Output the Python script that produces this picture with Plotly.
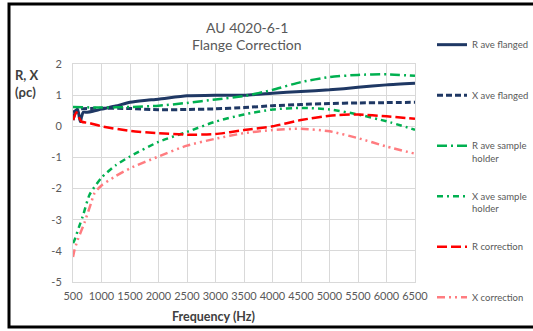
import plotly.graph_objects as go

# ---- data ----
f_rflg = [500, 540, 580, 610, 630, 650, 680, 750, 850, 1000, 1250, 1500, 1750, 2000, 2500, 3000, 3500, 4000, 4500, 5000, 5500, 6000, 6500]
r_flg = [0.2, 0.45, 0.55, 0.3, 0.15, 0.3, 0.45, 0.45, 0.48, 0.55, 0.65, 0.77, 0.83, 0.87, 0.98, 1.0, 1.0, 1.06, 1.12, 1.17, 1.25, 1.33, 1.38]

f_xflg = [500, 600, 1000, 1500, 2000, 2500, 3000, 3500, 4000, 4500, 5000, 5500, 6000, 6500]
x_flg = [0.45, 0.55, 0.58, 0.57, 0.53, 0.54, 0.56, 0.6, 0.66, 0.7, 0.73, 0.75, 0.76, 0.77]

f_rsh = [500, 1000, 1500, 2000, 2500, 3000, 3500, 4000, 4500, 5000, 5500, 6000, 6500]
r_sh = [0.62, 0.6, 0.62, 0.66, 0.75, 0.86, 0.97, 1.17, 1.42, 1.58, 1.65, 1.67, 1.62]

f_xsh = [500, 525, 612, 670, 790, 1000, 1250, 1500, 2000, 2500, 3000, 3500, 4000, 4500, 5000, 5500, 6000, 6500]
x_sh = [-3.75, -3.66, -3.2, -2.9, -2.2, -1.65, -1.25, -0.97, -0.5, -0.18, 0.15, 0.38, 0.54, 0.59, 0.54, 0.38, 0.16, -0.11]

f_rc = [500, 560, 600, 650, 800, 1000, 1500, 2000, 2500, 3000, 3500, 4000, 4500, 5000, 5500, 6000, 6500]
r_corr = [0.2, 0.45, 0.3, 0.15, 0.1, 0.0, -0.15, -0.22, -0.27, -0.25, -0.12, 0.0, 0.2, 0.34, 0.38, 0.32, 0.24]

f_xc = [500, 525, 580, 700, 816, 876, 1000, 1250, 1500, 2000, 2500, 3000, 3500, 4000, 4500, 5000, 5500, 6000, 6500]
x_corr = [-4.2, -3.98, -3.66, -3.1, -2.47, -2.15, -1.9, -1.6, -1.35, -0.97, -0.62, -0.4, -0.22, -0.12, -0.08, -0.16, -0.38, -0.65, -0.88]

x_ticks = list(range(500, 7000, 500))
y_ticks = [-5, -4, -3, -2, -1, 0, 1, 2]

series = [
    ("R ave flanged", f_rflg, r_flg, "#1F3864", "solid", 3),
    ("X ave flanged", f_xflg, x_flg, "#1F3864", "6px,3px", 3),
    ("R ave sample<br>holder", f_rsh, r_sh, "#00B050", "10px,4px,2px,4px", 2.5),
    ("X ave sample<br>holder", f_xsh, x_sh, "#00B050", "6px,4px,2px,4px", 2.5),
    ("R correction", f_rc, r_corr, "#FF0000", "10px,4px", 2.5),
    ("X correction", f_xc, x_corr, "#FF7C80", "8px,4px,2px,4px,2px,4px", 2.5),
]

fig = go.Figure()
for i, (name, xs, ys, col, dash, w) in enumerate(series):
    label = name if "<br>" in name else name + "<br> "
    fig.add_trace(go.Scatter(
        x=xs, y=ys, mode="lines", name=label, legendgroup=str(i),
        line=dict(color=col, dash=dash, width=w, shape="spline", smoothing=0.6),
    ))

L, R, T, B = 73, 118, 64, 49
W, H = 533, 331
pw, ph = W - L - R, H - T - B

def px(xp):
    return (xp - L) / pw

def py(yp):
    return (H - B - yp) / ph

grid = "#D9D9D9"
tick_font = dict(family="Lato, sans-serif", size=11, color="#595959")

fig.update_layout(
    width=W, height=H,
    margin=dict(l=L, r=R, t=T, b=B, autoexpand=False),
    paper_bgcolor="white", plot_bgcolor="white",
    font=dict(family="Lato, sans-serif", color="#595959"),
    xaxis=dict(range=[500, 6500], tickvals=x_ticks, ticktext=[str(v) for v in x_ticks],
               showgrid=True, gridcolor=grid, gridwidth=1, zeroline=False, tickangle=0,
               showline=True, linecolor=grid, mirror=True, ticks="", tickfont=tick_font,
               ticklabelstandoff=4),
    yaxis=dict(range=[-5, 2], tickvals=y_ticks, ticktext=[str(v) for v in y_ticks],
               showgrid=True, gridcolor=grid, gridwidth=1, zeroline=False,
               showline=True, linecolor=grid, mirror=True, ticks="", tickfont=tick_font,
               ticklabelstandoff=8),
    showlegend=True,
    legend=dict(x=px(432), y=py(32), xanchor="left", yanchor="top",
                font=dict(family="Lato, sans-serif", size=9.5, color="#595959"),
                tracegroupgap=22.8, valign="top", bgcolor="rgba(0,0,0,0)",
                maxheight=320, itemwidth=30),
)

annots = [
    dict(text="AU 4020-6-1", x=px(247), y=py(27)),
    dict(text="Flange Correction", x=px(247), y=py(45)),
]
for a in annots:
    fig.add_annotation(text=a["text"], x=a["x"], y=a["y"], xref="paper", yref="paper",
                       showarrow=False, xanchor="center", yanchor="middle",
                       font=dict(family="Lato, sans-serif", size=14, color="#595959"))

fig.add_annotation(text="<b>R, X</b>", x=px(13), y=py(75), xref="paper", yref="paper",
                   showarrow=False, xanchor="left", yanchor="middle",
                   font=dict(family="Lato, sans-serif", size=13, color="#404040"))
fig.add_annotation(text="<b>(ρc)</b>", x=px(13), y=py(92), xref="paper", yref="paper",
                   showarrow=False, xanchor="left", yanchor="middle",
                   font=dict(family="Lato, sans-serif", size=13, color="#404040"))
fig.add_annotation(text="<b>Frequency (Hz)</b>", x=px(213), y=py(316), xref="paper", yref="paper",
                   showarrow=False, xanchor="center", yanchor="middle",
                   font=dict(family="Lato, sans-serif", size=12.5, color="#404040"))

# outer frame
fig.add_shape(type="rect", xref="paper", yref="paper",
              x0=px(9), x1=px(545), y0=py(327), y1=py(4),
              line=dict(color="black", width=3), fillcolor="rgba(0,0,0,0)", layer="below")

fig.write_html("out.html")
